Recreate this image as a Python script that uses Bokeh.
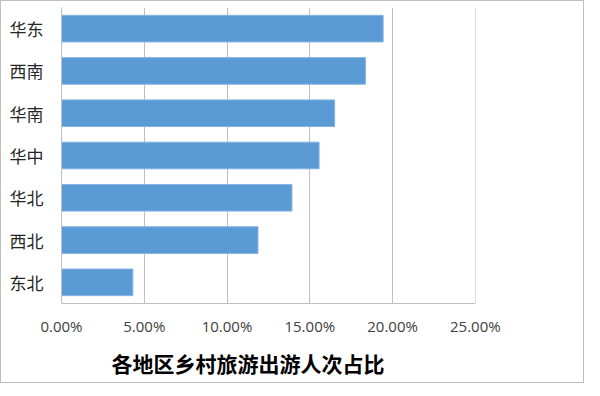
from bokeh.plotting import figure
from bokeh.models import FactorRange, Range1d, NumeralTickFormatter, Title, FixedTicker
from bokeh.embed import file_html
from bokeh.resources import INLINE

regions = ["华东", "西南", "华南", "华中", "华北", "西北", "东北"]
shares = [0.1943, 0.1836, 0.1650, 0.1556, 0.1392, 0.1187, 0.0431]
x_ticks = [0.0, 0.05, 0.10, 0.15, 0.20, 0.25]
title_text = "各地区乡村旅游出游人次占比"

p = figure(width=584, height=383, output_backend="svg", toolbar_location=None,
           y_range=FactorRange(factors=list(reversed(regions)), range_padding=0),
           x_range=Range1d(0, 0.2501))
p.min_border_left = 60
p.min_border_right = 110
p.min_border_top = 6
p.min_border_bottom = 80
p.outline_line_color = None
p.background_fill_color = "white"
p.border_fill_color = "white"

p.hbar(y=regions, right=shares, left=0, height=0.63,
       fill_color="#5B9BD5", line_color="#86B2E2", line_width=1)

p.xaxis.ticker = FixedTicker(ticks=x_ticks)
p.xaxis.formatter = NumeralTickFormatter(format="0.00%")
p.xaxis.major_tick_line_color = None
p.xaxis.minor_tick_line_color = None
p.xaxis.axis_line_color = "#BFBFBF"
p.xaxis.major_label_text_font = "Open Sans"
p.xaxis.major_label_text_font_size = "15px"
p.xaxis.major_label_text_color = "#404040"
p.xaxis.major_label_standoff = 6

p.yaxis.major_tick_line_color = None
p.yaxis.minor_tick_line_color = None
p.yaxis.axis_line_color = "#BFBFBF"
p.yaxis.major_label_text_font = "Noto Sans CJK SC"
p.yaxis.major_label_text_font_size = "17px"
p.yaxis.major_label_text_color = "#262626"
p.yaxis.major_label_standoff = 12

p.xgrid.ticker = FixedTicker(ticks=x_ticks)
p.xgrid.grid_line_color = "#BFBFBF"
p.xgrid.grid_line_width = 1
p.ygrid.grid_line_color = None

p.add_layout(Title(text=title_text, align="left", offset=50,
                   text_font="Noto Sans CJK SC", text_font_size="21px",
                   text_font_style="bold", text_color="black", standoff=14), "below")

p.styles = {"border": "1px solid #BFBFBF"}

open("out.html", "w").write(file_html(p, INLINE))
